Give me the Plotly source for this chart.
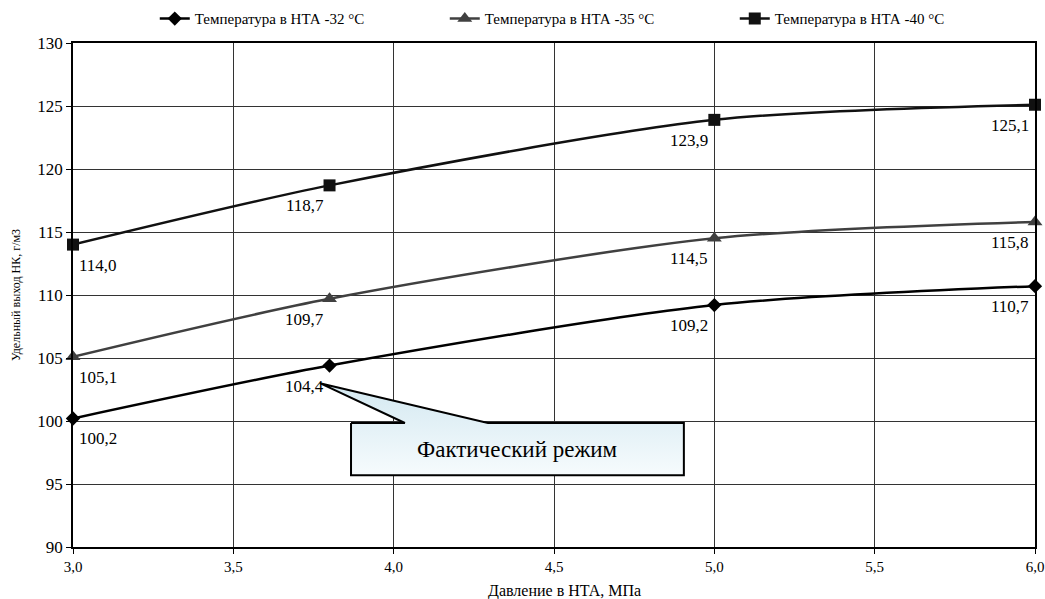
import plotly.graph_objects as go

# Pressure in the low-temperature separator, MPa
pressure = [3.0, 3.8, 5.0, 6.0]

# Specific condensate yield, g/m3, for three separator temperatures
yield_m32 = [100.2, 104.4, 109.2, 110.7]
yield_m35 = [105.1, 109.7, 114.5, 115.8]
yield_m40 = [114.0, 118.7, 123.9, 125.1]

series_names = [
    "Температура в НТА -32 °C",
    "Температура в НТА -35 °C",
    "Температура в НТА -40 °C",
]
series_values = [yield_m32, yield_m35, yield_m40]
series_colors = ["#000000", "#404040", "#111111"]
series_symbols = ["diamond", "triangle-up", "square"]
series_sizes = [11, 13, 12]

x_ticks = [3.0, 3.5, 4.0, 4.5, 5.0, 5.5, 6.0]
y_ticks = [90, 95, 100, 105, 110, 115, 120, 125, 130]

callout_text = "Фактический режим"

FONT = "'Liberation Serif', 'Times New Roman', serif"

fig = go.Figure()

for name, vals, col, sym, sz in zip(series_names, series_values, series_colors,
                                    series_symbols, series_sizes):
    fig.add_trace(go.Scatter(
        x=pressure, y=vals, name=name, mode="lines+markers",
        line=dict(color=col, width=2.5, shape="spline", smoothing=0.8),
        marker=dict(symbol=sym, size=sz, color=col),
        cliponaxis=False,
    ))
    # value labels below each point
    for i, (xv, yv) in enumerate(zip(pressure, vals)):
        first = i == 0
        fig.add_annotation(
            x=xv, y=yv, text=f"{yv:.1f}".replace(".", ","),
            showarrow=False, xref="x", yref="y",
            xanchor="left" if first else "right", yanchor="top",
            xshift=4 if first else -4, yshift=-9,
            font=dict(family=FONT, size=17, color="#000000"),
        )

# Callout "Фактический режим" pointing at the operating point (3.8 MPa, -32 °C)
tip = (3.77, 103.0)
box_x0, box_x1 = 3.867, 4.905
box_y0, box_y1 = 95.7, 99.84
base_l, base_r = 4.035, 4.294
cx = [box_x0, base_l, tip[0], base_r, box_x1, box_x1, box_x0, box_x0]
cy = [box_y1, box_y1, tip[1], box_y1, box_y1, box_y0, box_y0, box_y1]
fig.add_trace(go.Scatter(
    x=cx, y=cy, mode="lines", fill="toself", showlegend=False, hoverinfo="skip",
    line=dict(color="#000000", width=2),
    fillgradient=dict(type="vertical",
                      colorscale=[[0, "#f6fbfd"], [0.75, "#dcedf4"], [1, "#d4e9f1"]]),
))
fig.add_annotation(
    x=(box_x0 + box_x1) / 2, y=(box_y0 + box_y1) / 2, text=callout_text,
    showarrow=False, font=dict(family=FONT, size=23, color="#000000"),
)

# x-axis title, placed slightly right of centre
fig.add_annotation(
    x=0.511, y=-0.088, xref="paper", yref="paper", xanchor="center", yanchor="middle",
    text="Давление в НТА, МПа", showarrow=False,
    font=dict(family=FONT, size=16, color="#000000"),
)

fig.update_layout(
    width=1045, height=599,
    margin=dict(l=73, r=10, t=43, b=52, autoexpand=False),
    paper_bgcolor="#ffffff", plot_bgcolor="#ffffff",
    separators=", ",
    font=dict(family=FONT, size=13, color="#000000"),
    showlegend=True,
    legend=dict(
        orientation="h", x=0.085, xanchor="left", y=1.048, yanchor="middle",
        font=dict(family=FONT, size=15, color="#000000"),
        entrywidth=245, entrywidthmode="pixels",
        bgcolor="rgba(0,0,0,0)",
    ),
    xaxis=dict(
        range=[3.0, 6.0], tickvals=x_ticks, tickformat=".1f",
        automargin=False,
        showgrid=True, gridcolor="#333333", gridwidth=1,
        showline=True, linecolor="#000000", linewidth=2, mirror=True,
        ticks="outside", ticklen=5, tickcolor="#000000",
        zeroline=False,
        tickfont=dict(family=FONT, size=15),
    ),
    yaxis=dict(
        range=[90, 130], tickvals=y_ticks,
        automargin=False,
        showgrid=True, gridcolor="#333333", gridwidth=1,
        showline=True, linecolor="#000000", linewidth=1.5, mirror=True,
        ticks="outside", ticklen=5, tickcolor="#000000",
        zeroline=False,
        tickfont=dict(family=FONT, size=17),
        title=dict(text="Удельный выход НК, г/м3", font=dict(family=FONT, size=12),
                   standoff=14),
    ),
)

fig.write_html("out.html")
